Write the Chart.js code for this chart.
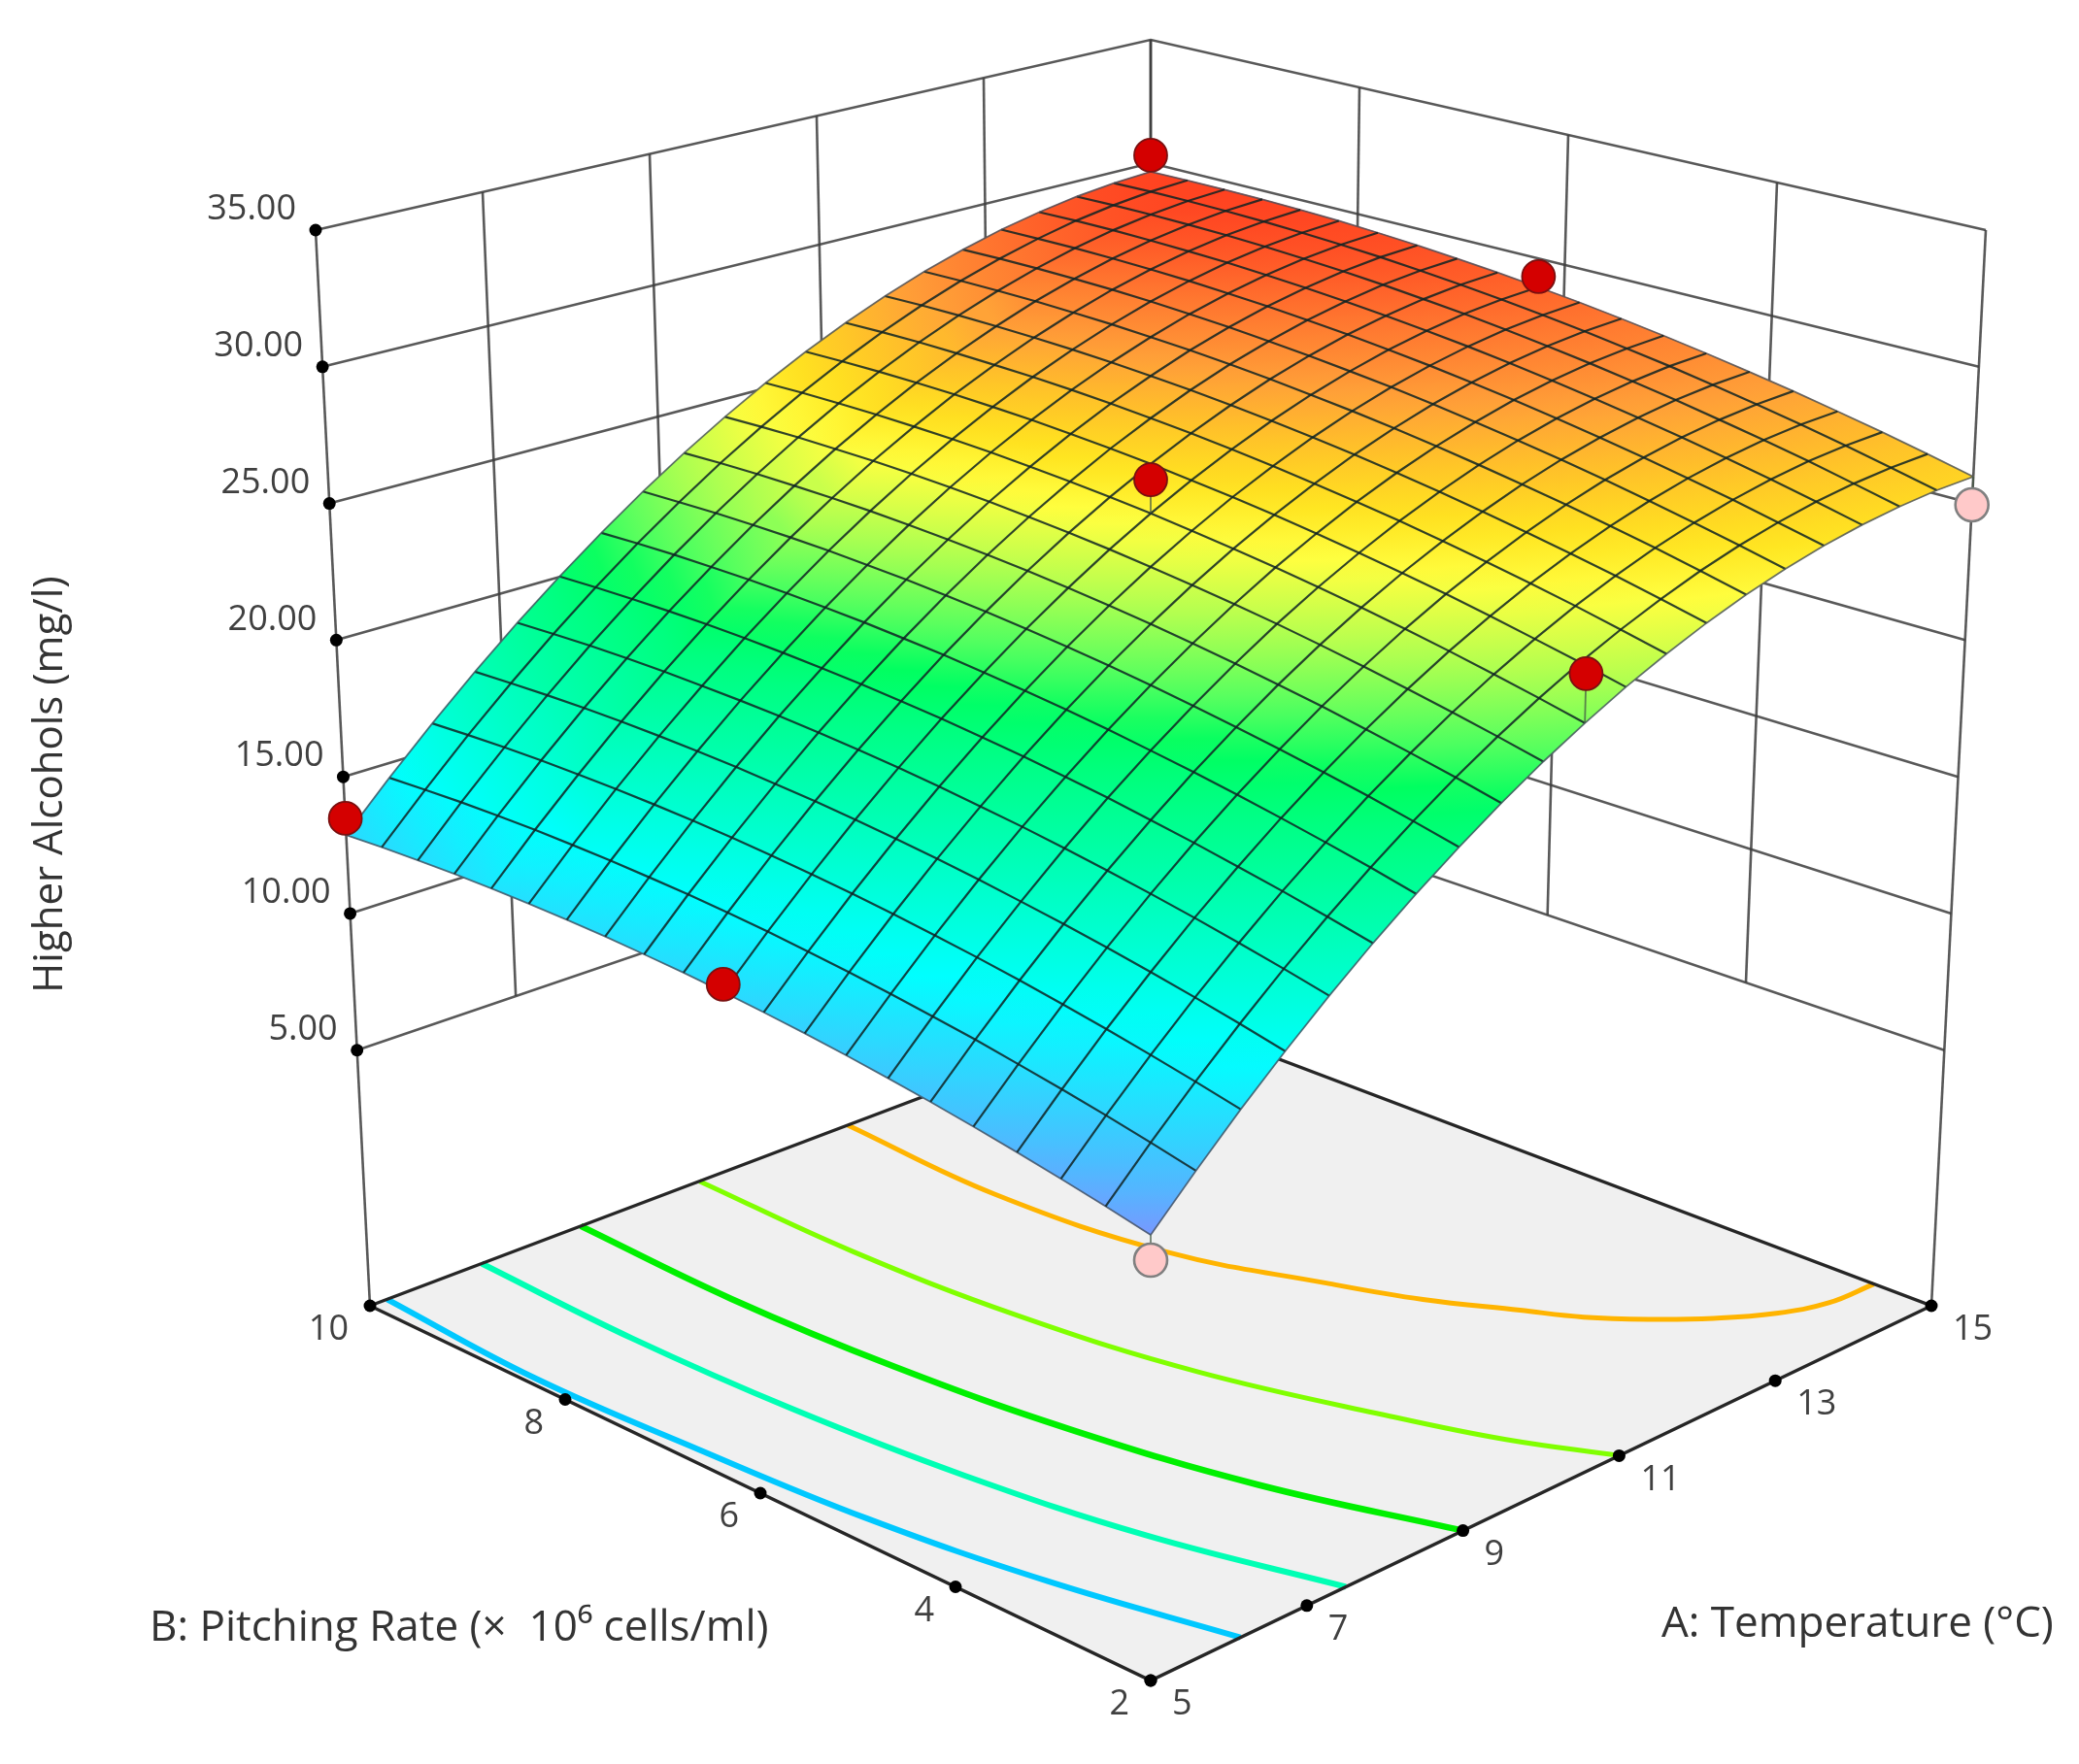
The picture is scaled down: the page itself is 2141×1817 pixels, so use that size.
<!DOCTYPE html>
<html>
<head>
<meta charset="utf-8">
<title>Higher Alcohols response surface</title>
<script src="https://cdn.jsdelivr.net/npm/chart.js@4/dist/chart.umd.min.js"></script>
<style>
    html, body { margin: 0; padding: 0; background: #ffffff; }
    canvas { display: block; }
</style>
</head>
<body>
<canvas id="surfaceChart" width="2141" height="1817"></canvas>
<script>
// Axis ticks
const tempTicks = [5, 7, 9, 11, 13, 15];
const pitchTicks = [2, 4, 6, 8, 10];
const responseTicks = [5, 10, 15, 20, 25, 30, 35];
const responseLabels = ["5.00", "10.00", "15.00", "20.00", "25.00", "30.00", "35.00"];
const responseMin = -4.35;
const responseMax = 35;

// Mesh positions of the surface
const tempGrid = [5, 5.5, 6, 6.5, 7, 7.5, 8, 8.5, 9, 9.5, 10, 10.5, 11, 11.5, 12, 12.5, 13, 13.5, 14, 14.5, 15];
const pitchGrid = [2, 2.4, 2.8, 3.2, 3.6, 4, 4.4, 4.8, 5.2, 5.6, 6, 6.4, 6.8, 7.2, 7.6, 8, 8.4, 8.8, 9.2, 9.6, 10];

// Higher alcohols (mg/l), one row per temperature
const higherAlcohols = [
    [10.50, 10.83, 11.13, 11.41, 11.67, 11.91, 12.12, 12.32, 12.49, 12.64, 12.77, 12.88, 12.96, 13.03, 13.07, 13.09, 13.09, 13.07, 13.02, 12.96, 12.87],
    [12.02, 12.35, 12.66, 12.94, 13.20, 13.45, 13.66, 13.86, 14.04, 14.19, 14.33, 14.44, 14.53, 14.59, 14.64, 14.66, 14.67, 14.65, 14.61, 14.54, 14.46],
    [13.47, 13.80, 14.11, 14.40, 14.66, 14.91, 15.13, 15.33, 15.51, 15.67, 15.80, 15.92, 16.01, 16.08, 16.13, 16.16, 16.16, 16.15, 16.11, 16.05, 15.97],
    [14.83, 15.17, 15.48, 15.77, 16.04, 16.29, 16.51, 16.72, 16.90, 17.06, 17.20, 17.32, 17.41, 17.49, 17.54, 17.57, 17.58, 17.57, 17.53, 17.47, 17.40],
    [16.12, 16.46, 16.77, 17.07, 17.34, 17.59, 17.82, 18.03, 18.21, 18.38, 18.52, 18.64, 18.74, 18.82, 18.87, 18.90, 18.92, 18.91, 18.88, 18.82, 18.75],
    [17.33, 17.67, 17.99, 18.28, 18.56, 18.81, 19.05, 19.26, 19.45, 19.61, 19.76, 19.88, 19.98, 20.06, 20.12, 20.16, 20.18, 20.17, 20.14, 20.09, 20.02],
    [18.45, 18.80, 19.12, 19.42, 19.70, 19.96, 20.19, 20.41, 20.60, 20.77, 20.92, 21.05, 21.15, 21.24, 21.30, 21.34, 21.36, 21.35, 21.33, 21.28, 21.21],
    [19.50, 19.85, 20.18, 20.48, 20.76, 21.02, 21.26, 21.48, 21.68, 21.85, 22.00, 22.13, 22.24, 22.33, 22.39, 22.44, 22.46, 22.46, 22.44, 22.39, 22.33],
    [20.47, 20.83, 21.15, 21.46, 21.75, 22.01, 22.25, 22.47, 22.67, 22.85, 23.00, 23.14, 23.25, 23.34, 23.41, 23.46, 23.48, 23.48, 23.47, 23.43, 23.36],
    [21.37, 21.72, 22.05, 22.36, 22.65, 22.92, 23.17, 23.39, 23.59, 23.77, 23.93, 24.07, 24.18, 24.28, 24.35, 24.40, 24.43, 24.43, 24.42, 24.38, 24.32],
    [22.18, 22.54, 22.87, 23.19, 23.48, 23.75, 24.00, 24.23, 24.43, 24.61, 24.78, 24.92, 25.03, 25.13, 25.21, 25.26, 25.29, 25.30, 25.29, 25.26, 25.20],
    [22.92, 23.28, 23.61, 23.93, 24.23, 24.50, 24.75, 24.98, 25.19, 25.38, 25.54, 25.69, 25.81, 25.91, 25.99, 26.04, 26.08, 26.09, 26.08, 26.05, 26.00],
    [23.57, 23.93, 24.28, 24.60, 24.89, 25.17, 25.43, 25.66, 25.87, 26.06, 26.23, 26.38, 26.50, 26.61, 26.69, 26.75, 26.78, 26.80, 26.80, 26.77, 26.72],
    [24.15, 24.51, 24.86, 25.18, 25.48, 25.76, 26.02, 26.26, 26.48, 26.67, 26.84, 26.99, 27.12, 27.22, 27.31, 27.37, 27.41, 27.43, 27.43, 27.41, 27.36],
    [24.65, 25.02, 25.37, 25.69, 26.00, 26.28, 26.54, 26.78, 27.00, 27.20, 27.37, 27.53, 27.66, 27.77, 27.85, 27.92, 27.96, 27.99, 27.99, 27.97, 27.93],
    [25.07, 25.44, 25.79, 26.12, 26.43, 26.72, 26.98, 27.22, 27.45, 27.65, 27.82, 27.98, 28.11, 28.23, 28.32, 28.39, 28.44, 28.46, 28.47, 28.45, 28.41],
    [25.41, 25.78, 26.14, 26.47, 26.78, 27.07, 27.34, 27.59, 27.81, 28.02, 28.20, 28.36, 28.49, 28.61, 28.70, 28.78, 28.83, 28.86, 28.87, 28.85, 28.82],
    [25.67, 26.05, 26.41, 26.74, 27.06, 27.35, 27.62, 27.87, 28.10, 28.31, 28.49, 28.65, 28.79, 28.91, 29.01, 29.09, 29.14, 29.17, 29.19, 29.18, 29.14],
    [25.85, 26.23, 26.60, 26.94, 27.25, 27.55, 27.82, 28.08, 28.31, 28.52, 28.71, 28.87, 29.02, 29.14, 29.24, 29.32, 29.38, 29.41, 29.43, 29.42, 29.39],
    [25.96, 26.34, 26.71, 27.05, 27.37, 27.67, 27.95, 28.20, 28.44, 28.65, 28.84, 29.01, 29.16, 29.29, 29.39, 29.47, 29.53, 29.57, 29.59, 29.59, 29.56],
    [25.98, 26.37, 26.74, 27.08, 27.41, 27.71, 27.99, 28.25, 28.49, 28.71, 28.90, 29.07, 29.22, 29.35, 29.46, 29.55, 29.61, 29.65, 29.67, 29.67, 29.65]
];

// Design points
const designTemp = [15, 15, 10, 10, 15, 5, 5, 5];
const designPitch = [10, 6, 6, 2, 2, 10, 6, 2];
const designResponse = [30.32, 29.31, 26.02, 23.91, 24.95, 13.48, 13.04, 9.66];
const designAbove = [true, true, true, true, false, true, true, false];

// Contours on the floor
const contourBlueTemp = [5.22, 5.1, 5.2, 5.36, 5.68, 6.15];
const contourBluePitch = [10, 8.4, 6.8, 5.2, 3.6, 2];
const contourTealTemp = [6.43, 6.36, 6.42, 6.61, 6.95, 7.5];
const contourTealPitch = [10, 8.4, 6.8, 5.2, 3.6, 2];
const contourGreenTemp = [7.7, 7.63, 7.72, 7.96, 8.37, 9];
const contourGreenPitch = [10, 8.4, 6.8, 5.2, 3.6, 2];
const contourLimeTemp = [9.22, 9.17, 9.29, 9.62, 10.21, 10.55, 11];
const contourLimePitch = [10, 8.4, 6.8, 5.2, 3.6, 2.8, 2];
const contourOrangeTemp = [11.12, 11, 11.22, 11.75, 12.1, 12.53, 12.81, 13.16, 13.56, 14, 14.46, 15];
const contourOrangePitch = [10, 8.4, 6.8, 5.6, 4.89, 4.24, 3.81, 3.43, 3.08, 2.79, 2.62, 2.59];

// Colour ramp of the surface
const rampLevels = [10.5, 11.5, 13, 14.5, 17, 19.5, 20.5, 21.5, 23, 24.5, 25.5, 26.5, 27.5, 28.5, 29.7];
const rampColors = [
    [120, 152, 255], [80, 184, 255], [40, 220, 255], [0, 255, 255], [0, 255, 192], [0, 255, 128], [0, 255, 96],
    [80, 255, 96], [176, 255, 80], [255, 255, 64], [255, 228, 32], [255, 196, 40], [255, 160, 56], [255, 120, 48], [255, 64, 32]
];

// Camera set up to line up with the box in the picture
const view = {
    centerX: 1185, floorFrontY: 1731, halfWidth: 804, widthGrow: 56,
    floorSlope: 386, floorBend: 82, height: 1216, heightShrink: 108, meshWarp: 0.133
};

function warp(t) {
    return (1 + view.meshWarp) * t / (1 + view.meshWarp * t);
}

// Project temperature, pitching rate, response to a point of the picture
function project(temp, pitch, response, onMesh) {
    let a = (temp - 5) / 10;
    let b = (pitch - 2) / 8;
    if (onMesh) {
        a = warp(a);
        b = warp(b);
    }
    const c = (response - responseMin) / (responseMax - responseMin);
    return {
        x: view.centerX + (a - b) * (view.halfWidth + view.widthGrow * c),
        y: view.floorFrontY - view.floorSlope * (a + b) + view.floorBend * a * b
            - c * (view.height - view.heightShrink * (a + b))
    };
}

function colorForResponse(z) {
    if (z <= rampLevels[0]) return `rgb(${rampColors[0].join(",")})`;
    for (let k = 1; k < rampLevels.length; k++) {
        if (z <= rampLevels[k]) {
            const t = (z - rampLevels[k - 1]) / (rampLevels[k] - rampLevels[k - 1]);
            const rgb = rampColors[k].map((v, n) => Math.round(rampColors[k - 1][n] + (v - rampColors[k - 1][n]) * t));
            return `rgb(${rgb.join(",")})`;
        }
    }
    return `rgb(${rampColors[rampColors.length - 1].join(",")})`;
}

function lineSet(points, color, width, extra) {
    return Object.assign({
        data: points,
        showLine: true,
        borderColor: color,
        borderWidth: width,
        pointRadius: 0,
        tension: 0,
        fill: false
    }, extra || {});
}

function dotSet(points, color, radius, border, borderWidth) {
    return {
        data: points,
        showLine: false,
        pointStyle: "circle",
        pointRadius: radius,
        pointBackgroundColor: color,
        pointBorderColor: border,
        pointBorderWidth: borderWidth
    };
}

function contourSet(temps, pitches, color, width) {
    const points = temps.map((t, k) => project(t, pitches[k], responseMin, false));
    return lineSet(points, color, width, { tension: 0.4, borderCapStyle: "butt" });
}

const tMin = tempTicks[0], tMax = tempTicks[tempTicks.length - 1];
const pMin = pitchTicks[0], pMax = pitchTicks[pitchTicks.length - 1];
const zLow = responseTicks[0];
const wallColor = "rgba(60,60,60,0.85)";
const edgeColor = "#262626";
const meshColor = "rgba(15,35,35,0.85)";
const meshEdgeColor = "rgba(70,80,95,0.8)";

// Datasets in painting order, back to front
const layers = [];

// Floor
layers.push(lineSet([
    project(tMin, pMin, responseMin), project(tMax, pMin, responseMin),
    project(tMax, pMax, responseMin), project(tMin, pMax, responseMin),
    project(tMin, pMin, responseMin)
], "rgba(0,0,0,0)", 0, { fill: "shape", backgroundColor: "#f0f0f0" }));

// Contours
layers.push(contourSet(contourBlueTemp, contourBluePitch, "#00c8ff", 6));
layers.push(contourSet(contourTealTemp, contourTealPitch, "#00ffb4", 6));
layers.push(contourSet(contourGreenTemp, contourGreenPitch, "#00f000", 6.5));
layers.push(contourSet(contourLimeTemp, contourLimePitch, "#80ff00", 5));
layers.push(contourSet(contourOrangeTemp, contourOrangePitch, "#ffb400", 5));

// Wall grid: verticals stop at the lowest response line, the outer edges reach the floor
tempTicks.forEach(t => {
    const bottom = t === tMin ? responseMin : zLow;
    layers.push(lineSet([project(t, pMax, bottom), project(t, pMax, responseMax)], wallColor, 2.6));
});
pitchTicks.forEach(p => {
    const bottom = p === pMin ? responseMin : zLow;
    layers.push(lineSet([project(tMax, p, bottom), project(tMax, p, responseMax)], wallColor, 2.6));
});
responseTicks.forEach(z => {
    layers.push(lineSet([project(tMin, pMax, z), project(tMax, pMax, z), project(tMax, pMin, z)], wallColor, 2.6));
});

// Floor edges
layers.push(lineSet([
    project(tMin, pMax, responseMin), project(tMin, pMin, responseMin), project(tMax, pMin, responseMin),
    project(tMax, pMax, responseMin), project(tMin, pMax, responseMin)
], edgeColor, 3.4));

// Axis tick dots
const axisDots = [];
responseTicks.forEach(z => axisDots.push(project(tMin, pMax, z)));
tempTicks.forEach(t => axisDots.push(project(t, pMin, responseMin)));
pitchTicks.forEach(p => axisDots.push(project(tMin, p, responseMin)));
layers.push(dotSet(axisDots, "#000000", 6.5, "#000000", 0));

// Surface: points carry the mesh, the quads are painted by the plugin below
const surfacePoints = [];
tempGrid.forEach((t, i) => {
    pitchGrid.forEach((p, j) => surfacePoints.push(project(t, p, higherAlcohols[i][j], true)));
});
layers.push({ label: "surface", data: surfacePoints, showLine: false, pointRadius: 0 });

// Mesh lines
tempGrid.forEach((t, i) => {
    const outer = i === 0 || i === tempGrid.length - 1;
    layers.push(lineSet(pitchGrid.map((p, j) => project(t, p, higherAlcohols[i][j], true)),
        outer ? meshEdgeColor : meshColor, outer ? 1.8 : 2.2));
});
pitchGrid.forEach((p, j) => {
    const outer = j === 0 || j === pitchGrid.length - 1;
    layers.push(lineSet(tempGrid.map((t, i) => project(t, p, higherAlcohols[i][j], true)),
        outer ? meshEdgeColor : meshColor, outer ? 1.8 : 2.2));
});

// Stems from the design points to the surface
designTemp.forEach((t, k) => {
    const i = tempGrid.indexOf(t);
    const j = pitchGrid.indexOf(designPitch[k]);
    layers.push(lineSet([
        project(t, designPitch[k], designResponse[k], true),
        project(t, designPitch[k], higherAlcohols[i][j], true)
    ], "rgba(70,90,70,0.75)", 1.8));
});

// Design points
const redPoints = [], pinkPoints = [];
designTemp.forEach((t, k) => {
    const point = project(t, designPitch[k], designResponse[k], true);
    (designAbove[k] ? redPoints : pinkPoints).push(point);
});
layers.push(dotSet(redPoints, "#d40000", 17, "#7a1010", 1.8));
layers.push(dotSet(pinkPoints, "#ffc9c9", 17, "#808080", 2.6));

// Paints the surface quads from the parsed dataset points
const surfacePlugin = {
    id: "surfaceQuads",
    beforeDatasetDraw(chart, args) {
        const dataset = chart.data.datasets[args.index];
        if (dataset.label !== "surface") return;
        const pts = args.meta.data;
        const ctx = chart.ctx;
        const rows = tempGrid.length, cols = pitchGrid.length;
        ctx.save();
        for (let i = rows - 2; i >= 0; i--) {
            for (let j = cols - 2; j >= 0; j--) {
                const cell = [[i, j], [i + 1, j], [i + 1, j + 1], [i, j + 1]];
                const low = cell.reduce((m, c) => higherAlcohols[c[0]][c[1]] < higherAlcohols[m[0]][m[1]] ? c : m);
                const high = cell.reduce((m, c) => higherAlcohols[c[0]][c[1]] > higherAlcohols[m[0]][m[1]] ? c : m);
                const pLow = pts[low[0] * cols + low[1]];
                const pHigh = pts[high[0] * cols + high[1]];
                const zA = higherAlcohols[low[0]][low[1]];
                const zB = higherAlcohols[high[0]][high[1]];
                const grad = ctx.createLinearGradient(pLow.x, pLow.y, pHigh.x, pHigh.y);
                grad.addColorStop(0, colorForResponse(zA));
                grad.addColorStop(0.5, colorForResponse((zA + zB) / 2));
                grad.addColorStop(1, colorForResponse(zB));
                ctx.beginPath();
                cell.forEach((c, n) => {
                    const p = pts[c[0] * cols + c[1]];
                    if (n === 0) ctx.moveTo(p.x, p.y); else ctx.lineTo(p.x, p.y);
                });
                ctx.closePath();
                ctx.fillStyle = grad;
                ctx.strokeStyle = grad;
                ctx.lineWidth = 1;
                ctx.fill();
                ctx.stroke();
            }
        }
        ctx.restore();
    }
};

// Tick labels and axis titles
const labelPlugin = {
    id: "axisText",
    afterDatasetsDraw(chart) {
        const ctx = chart.ctx;
        const sx = chart.scales.x, sy = chart.scales.y;
        const put = (text, point, dx, dy, align) => {
            ctx.textAlign = align;
            ctx.fillText(text, sx.getPixelForValue(point.x) + dx, sy.getPixelForValue(point.y) + dy);
        };
        ctx.save();
        ctx.fillStyle = "#404040";
        ctx.textBaseline = "middle";
        ctx.font = '36px "Open Sans"';
        responseTicks.forEach((z, k) => put(responseLabels[k], project(tMin, pMax, z), -20, -21, "right"));
        tempTicks.forEach(t => put(String(t), project(t, pMin, responseMin), 22, 25, "left"));
        pitchTicks.forEach(p => put(String(p), project(tMin, p, responseMin), -22, 25, "right"));
        ctx.fillStyle = "#333333";
        ctx.font = '44px "Open Sans"';
        ctx.textAlign = "left";
        ctx.fillText("B: Pitching Rate (×  10⁶ cells/ml)", sx.getPixelForValue(154), sy.getPixelForValue(1677));
        ctx.fillText("A: Temperature (°C)", sx.getPixelForValue(1711), sy.getPixelForValue(1673));
        ctx.translate(sx.getPixelForValue(52), sy.getPixelForValue(808));
        ctx.rotate(-Math.PI / 2);
        ctx.textAlign = "center";
        ctx.font = '42px "Open Sans"';
        ctx.fillText("Higher Alcohols (mg/l)", 0, 0);
        ctx.restore();
    }
};

// Chart.js paints the first dataset last, so hand them over reversed
new Chart(document.getElementById("surfaceChart").getContext("2d"), {
    type: "scatter",
    data: { datasets: layers.slice().reverse() },
    options: {
        responsive: false,
        animation: false,
        layout: { padding: 0, autoPadding: false },
        plugins: { legend: { display: false }, tooltip: { enabled: false } },
        scales: {
            x: { type: "linear", min: 0, max: 2141, display: false },
            y: { type: "linear", min: 0, max: 1817, reverse: true, display: false }
        }
    },
    plugins: [surfacePlugin, labelPlugin]
});
</script>
</body>
</html>
